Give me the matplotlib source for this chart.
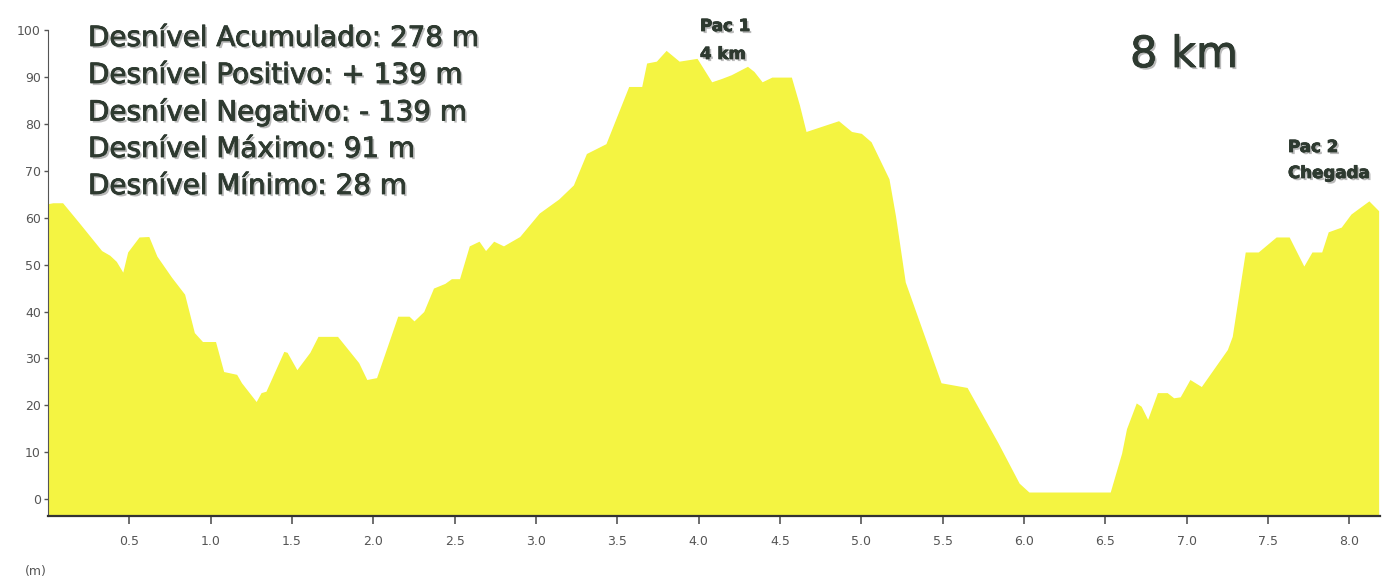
import matplotlib
matplotlib.use("Agg")
import matplotlib.pyplot as plt
import matplotlib.patheffects as pe

km = [0.00, 0.03, 0.09, 0.19, 0.33, 0.38, 0.42, 0.46, 0.49, 0.56, 0.62, 0.67,
      0.76, 0.84, 0.90, 0.95, 1.03, 1.08, 1.16, 1.19, 1.28, 1.31, 1.34, 1.45,
      1.47, 1.53, 1.61, 1.66, 1.78, 1.91, 1.96, 2.02, 2.15, 2.22, 2.25, 2.31,
      2.37, 2.44, 2.48, 2.53, 2.59, 2.65, 2.69, 2.74, 2.80, 2.90, 3.02, 3.14,
      3.23, 3.31, 3.43, 3.57, 3.65, 3.68, 3.74, 3.80, 3.88, 3.99, 4.08, 4.14,
      4.20, 4.30, 4.34, 4.39, 4.45, 4.57, 4.62, 4.66, 4.86, 4.94, 5.00, 5.06,
      5.17, 5.21, 5.27, 5.49, 5.65, 5.84, 5.97, 6.03, 6.53, 6.60, 6.63, 6.69,
      6.72, 6.76, 6.82, 6.88, 6.92, 6.96, 7.02, 7.09, 7.25, 7.28, 7.36, 7.44,
      7.55, 7.63, 7.72, 7.77, 7.83, 7.87, 7.95, 8.01, 8.12, 8.18]
elev = [63, 63.2, 63.2, 59, 53, 52, 50.7, 48.4, 52.7, 55.9, 56, 51.8,
        47.3, 43.7, 35.5, 33.6, 33.6, 27.2, 26.6, 24.8, 20.8, 22.7, 23, 31.5,
        31.3, 27.6, 31.3, 34.7, 34.7, 29.1, 25.5, 25.9, 39, 39, 38, 40,
        45, 46, 47, 47, 54, 55, 53, 55, 54, 56, 61, 64,
        67, 73.7, 75.8, 88, 88, 93, 93.4, 95.7, 93.4, 94, 89, 89.7,
        90.5, 92.3, 91.2, 89, 90, 90, 84, 78.4, 80.7, 78.4, 78, 76.2,
        68.3, 60.4, 46.3, 24.8, 23.8, 12, 3.4, 1.5, 1.5, 9.8, 15, 20.5,
        19.8, 17, 22.7, 22.7, 21.6, 21.8, 25.5, 24, 31.9, 34.7, 52.7, 52.7,
        55.9, 55.9, 49.7, 52.7, 52.7, 57, 58, 60.8, 63.6, 61.5]

stats = ["Desnível Acumulado: 278 m",
         "Desnível Positivo: + 139 m",
         "Desnível Negativo: - 139 m",
         "Desnível Máximo: 91 m",
         "Desnível Mínimo: 28 m"]

fig = plt.figure(figsize=(13.9, 5.81), dpi=100)
ax = fig.add_axes([0.0345, 0.112, 0.9585, 0.836])

ymin = -3.6
ax.fill_between(km, elev, ymin, color="#f4f442", linewidth=0)
ax.set_xlim(0, 8.19)
ax.set_ylim(ymin, 100)

ax.set_xticks([0.5, 1.0, 1.5, 2.0, 2.5, 3.0, 3.5, 4.0, 4.5, 5.0, 5.5, 6.0, 6.5, 7.0, 7.5, 8.0])
ax.set_yticks(range(0, 101, 10))
ax.tick_params(axis="x", length=6, width=1.2, color="#555555", labelsize=9,
               labelcolor="#555555", pad=8)
ax.tick_params(axis="y", length=3, width=1, color="#555555", labelsize=9,
               labelcolor="#555555", pad=2)
for s in ["top", "right"]:
    ax.spines[s].set_visible(False)
ax.spines["left"].set_color("#555555")
ax.spines["bottom"].set_color("#333333")
ax.spines["bottom"].set_linewidth(1.6)

txtc = "#2e3a30"
shadow = [pe.withSimplePatchShadow(offset=(1.5, -1.5), shadow_rgbFace="#777777", alpha=0.5),
          pe.Stroke(linewidth=0.6, foreground=txtc), pe.Normal()]

for i, s in enumerate(stats):
    fig.text(88 / 1390, 1 - (38 + i * 37) / 581, s, fontsize=20, color=txtc,
             va="center", ha="left", path_effects=shadow)

fig.text(1130 / 1390, 1 - 55 / 581, "8 km", fontsize=31, color=txtc,
         va="center", ha="left", path_effects=shadow)
fig.text(700 / 1390, 1 - 26 / 581, "Pac 1", fontsize=12, fontweight="bold",
         color=txtc, va="center", ha="left", path_effects=shadow)
fig.text(700 / 1390, 1 - 54 / 581, "4 km", fontsize=12, fontweight="bold",
         color=txtc, va="center", ha="left", path_effects=shadow)
fig.text(1288 / 1390, 1 - 147 / 581, "Pac 2", fontsize=12, fontweight="bold",
         color=txtc, va="center", ha="left", path_effects=shadow)
fig.text(1288 / 1390, 1 - 173 / 581, "Chegada", fontsize=12, fontweight="bold",
         color=txtc, va="center", ha="left", path_effects=shadow)
fig.text(25 / 1390, 1 - 572 / 581, "(m)", fontsize=9, color="#555555",
         va="center", ha="left")

fig.savefig("out.png", dpi=100)
